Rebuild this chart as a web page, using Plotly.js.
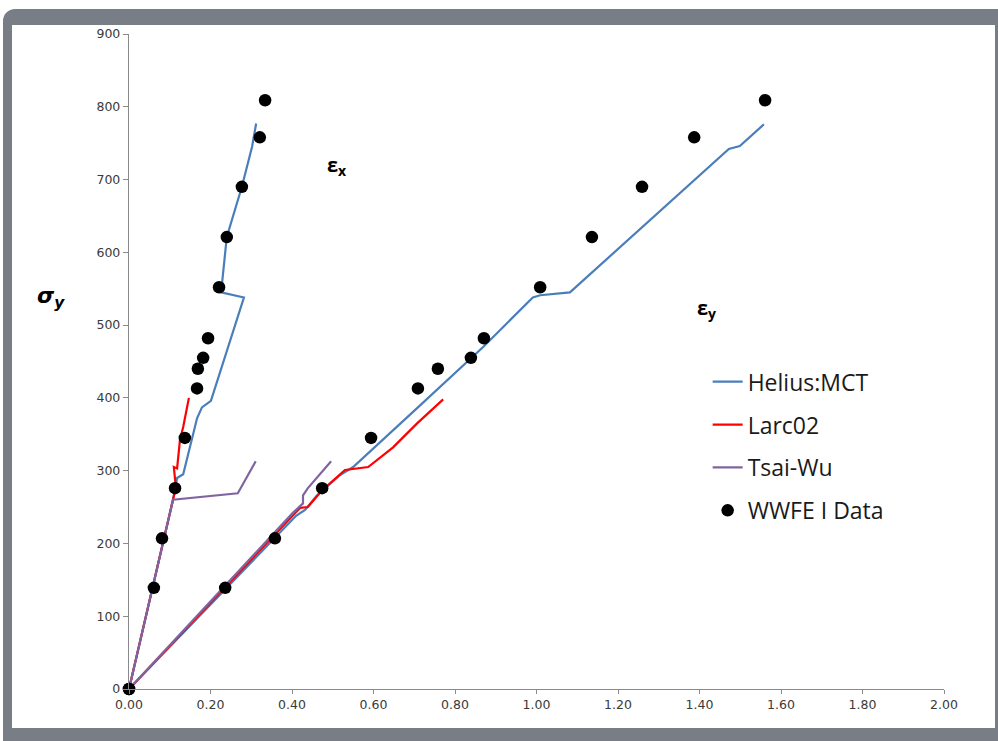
<!DOCTYPE html>
<html>
<head>
<meta charset="utf-8">
<script src="https://cdn.plot.ly/plotly-3.0.1.min.js"></script>
<style>
  html, body { margin: 0; padding: 0; background: #ffffff; }
  #frame { position: absolute; left: 3px; top: 9px; width: 1000px; height: 740px;
           background: #797d85; border-top-left-radius: 12px; }
  #inner { position: absolute; left: 12px; top: 25px; width: 983px; height: 703px;
           background: #ffffff; }
  #chart { position: absolute; left: 0; top: 0; width: 998px; height: 741px; }
</style>
</head>
<body>
<div id="frame"></div>
<div id="inner"></div>
<div id="chart"></div>
<script>
// ---- Data (strain in %, stress in MPa) ----
// WWFE I experimental data
const dataStress = [0, 139, 207, 276, 345, 413, 440, 455, 482, 552, 621, 690, 758, 809];
const dataEx     = [0, 0.061, 0.081, 0.113, 0.137, 0.167, 0.169, 0.182, 0.194, 0.221, 0.240, 0.277, 0.321, 0.334];
const dataEy     = [0, 0.236, 0.358, 0.474, 0.594, 0.709, 0.758, 0.839, 0.871, 1.009, 1.136, 1.259, 1.387, 1.561];

// Helius:MCT
const heliusExStrain = [0, 0.108, 0.118, 0.133, 0.167, 0.179, 0.201, 0.282, 0.226, 0.240, 0.277, 0.302, 0.312];
const heliusExStress = [0, 260, 290, 295, 372, 387, 396, 538, 545, 621, 690, 745, 777];
const heliusEyStrain = [0, 0.410, 0.432, 0.461, 0.518, 0.550, 0.709, 0.807, 0.869, 0.991, 1.009, 1.082, 1.472, 1.499, 1.558];
const heliusEyStress = [0, 238, 246, 266, 294, 305, 387, 438, 470, 538, 541, 545, 742, 746, 776];

// Larc02
const larcExStrain = [0, 0.108, 0.115, 0.110, 0.118, 0.125, 0.133, 0.147];
const larcExStress = [0, 260, 277, 305, 303, 342, 360, 400];
const larcEyStrain = [0, 0.410, 0.420, 0.439, 0.474, 0.530, 0.587, 0.648, 0.707, 0.771];
const larcEyStress = [0, 244, 249, 250, 273, 301, 305, 332, 365, 398];

// Tsai-Wu
const tsaiExStrain = [0, 0.108, 0.267, 0.311];
const tsaiExStress = [0, 260, 269, 313];
const tsaiEyStrain = [0, 0.402, 0.427, 0.427, 0.439, 0.496];
const tsaiEyStress = [0, 242, 255, 266, 276, 313];

const seriesNames = ['Helius:MCT', 'Larc02', 'Tsai-Wu', 'WWFE I Data'];
const seriesColors = ['#4a7ebb', '#ff0000', '#8064a2', '#000000'];

function joined(a, b) { return a.concat([null], b); }

const traces = [
  { x: joined(heliusExStrain, heliusEyStrain), y: joined(heliusExStress, heliusEyStress),
    mode: 'lines', name: seriesNames[0], legendgroup: 'g1',
    line: { color: seriesColors[0], width: 2.2 } },
  { x: joined(larcExStrain, larcEyStrain), y: joined(larcExStress, larcEyStress),
    mode: 'lines', name: seriesNames[1], legendgroup: 'g2',
    line: { color: seriesColors[1], width: 2.2 } },
  { x: joined(tsaiExStrain, tsaiEyStrain), y: joined(tsaiExStress, tsaiEyStress),
    mode: 'lines', name: seriesNames[2], legendgroup: 'g3',
    line: { color: seriesColors[2], width: 2.2 } },
  { x: dataEx.concat(dataEy), y: dataStress.concat(dataStress),
    mode: 'markers', name: seriesNames[3], legendgroup: 'g4', cliponaxis: false,
    marker: { color: seriesColors[3], size: 12.5 } }
];

const tickFont = { family: 'DejaVu Sans, sans-serif', size: 12.5, color: '#3a3a3a' };

const layout = {
  width: 998, height: 741,
  paper_bgcolor: 'rgba(0,0,0,0)',
  plot_bgcolor: '#ffffff',
  margin: { l: 129, r: 54, t: 34, b: 52, pad: 0 },
  showlegend: true,
  legend: {
    x: 0.71, y: 0.502, xanchor: 'left', yanchor: 'top',
    font: { family: 'Open Sans, sans-serif', size: 23, color: '#1a1a1a' },
    bgcolor: 'rgba(0,0,0,0)', tracegroupgap: 10, traceorder: 'grouped'
  },
  xaxis: {
    range: [0, 2], dtick: 0.2, tick0: 0, tickformat: '.2f',
    showgrid: false, zeroline: false, showline: true,
    linecolor: '#8a8a8a', linewidth: 1.2,
    ticks: 'outside', ticklen: 4, tickcolor: '#8a8a8a',
    tickfont: tickFont
  },
  yaxis: {
    range: [0, 900], dtick: 100, tick0: 0,
    showgrid: false, zeroline: false, showline: true,
    linecolor: '#8a8a8a', linewidth: 1.2,
    ticks: 'outside', ticklen: 5, tickcolor: '#8a8a8a',
    tickfont: tickFont
  },
  annotations: [
    { xref: 'paper', yref: 'paper', x: -0.115, y: 0.597, showarrow: false,
      text: '<b><i>σ</i></b><sub><b><i>y</i></b></sub>',
      font: { family: 'DejaVu Sans, sans-serif', size: 22, color: '#000' } },
    { xref: 'x', yref: 'y', x: 0.51, y: 720, showarrow: false,
      text: '<b>ε</b><sub><b>x</b></sub>',
      font: { family: 'Open Sans, sans-serif', size: 20, color: '#000' } },
    { xref: 'x', yref: 'y', x: 1.416, y: 523, showarrow: false,
      text: '<b>ε</b><sub><b>y</b></sub>',
      font: { family: 'Open Sans, sans-serif', size: 20, color: '#000' } }
  ]
};

Plotly.newPlot('chart', traces, layout, { displayModeBar: false, staticPlot: true });
</script>
</body>
</html>
